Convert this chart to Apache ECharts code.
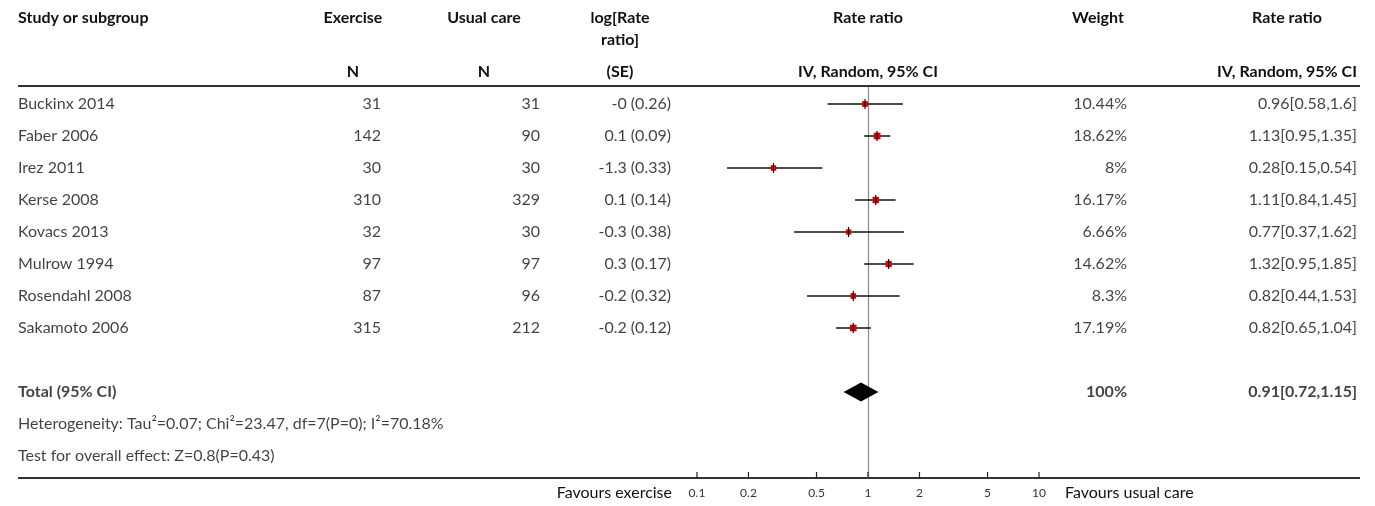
<!DOCTYPE html>
<html><head><meta charset="utf-8">
<script src="https://cdn.jsdelivr.net/npm/echarts@6/dist/echarts.min.js"></script>
<style>html,body{margin:0;padding:0;background:#fff}#c{width:1375px;height:506px}</style>
</head><body><div id="c"></div>
<script>
// ---- data ----
const studies = ['Buckinx 2014','Faber 2006','Irez 2011','Kerse 2008','Kovacs 2013','Mulrow 1994','Rosendahl 2008','Sakamoto 2006'];
const exerciseN = [31,142,30,310,32,97,87,315];
const usualN = [31,90,30,329,30,97,96,212];
const logRR = ['-0','0.1','-1.3','0.1','-0.3','0.3','-0.2','-0.2'];
const logSE = ['0.26','0.09','0.33','0.14','0.38','0.17','0.32','0.12'];
const weight = [10.44,18.62,8,16.17,6.66,14.62,8.3,17.19];
const rr = [0.96,1.13,0.28,1.11,0.77,1.32,0.82,0.82];
const ciLow = [0.58,0.95,0.15,0.84,0.37,0.95,0.44,0.65];
const ciHigh = [1.6,1.35,0.54,1.45,1.62,1.85,1.53,1.04];
const totalLabel = 'Total (95% CI)';
const totalWeight = '100%';
const totalRR = [0.91, 0.72, 1.15];
const heterogeneity = 'Heterogeneity: Tau\u00b2=0.07; Chi\u00b2=23.47, df=7(P=0); I\u00b2=70.18%';
const overallTest = 'Test for overall effect: Z=0.8(P=0.43)';
const tickValues = [0.1,0.2,0.5,1,2,5,10];
const headers1 = ['Study or subgroup','Exercise','Usual care','log[Rate','Rate ratio','Weight','Rate ratio'];
const headers1b = ['','','','ratio]','','',''];
const headers2 = ['','N','N','(SE)','IV, Random, 95% CI','','IV, Random, 95% CI'];
const favours = ['Favours exercise','Favours usual care'];

// ---- layout ----
const FONT = 'Lato';
const FS = 16;
const TXT = '#111';
const ROW0 = 104, ROWH = 32, TOP = 86, BOT = 478;
const yMin = (TOP - ROW0) / ROWH, yMax = (BOT - ROW0) / ROWH;
const totalRow = 9, hetRow = 10, testRow = 11;
const colStudy = 18, colEx = 381, colUC = 540, colSE = 671, colW = 1127, colRR = 1357;
const hdrX = [18, 353, 484, 620, 868, 1098, 1287];
const hdrAlign = ['left','center','center','center','center','center','center'];

const fmt = v => String(v);
function textSeries(col, rows, texts, pos, bold) {
  return {
    type: 'scatter', xAxisIndex: 1, yAxisIndex: 1, symbolSize: 0, silent: true,
    data: rows.map((r, i) => [col, r, texts[i]]),
    label: { show: true, position: pos, distance: 0, formatter: p => p.value[2],
      fontFamily: FONT, fontSize: FS, color: TXT, fontWeight: bold ? 'bold' : 'normal' },
    z: 5
  };
}
const rowsIdx = studies.map((_, i) => i);
const ciData = studies.map((_, i) => [rr[i], i, ciLow[i], ciHigh[i], weight[i]]);

const option = {
  animation: false,
  backgroundColor: '#fff',
  grid: [
    { left: 697, width: 342, top: TOP, height: BOT - TOP },
    { left: 0, width: 1375, top: TOP, height: BOT - TOP }
  ],
  xAxis: [
    { type: 'log', logBase: 10, min: 0.1, max: 10, gridIndex: 0, position: 'bottom',
      axisLine: { show: true, onZero: false, lineStyle: { color: '#333', width: 2 } },
      axisTick: { show: false },
      axisLabel: { show: true, customValues: tickValues, formatter: v => fmt(v), fontFamily: FONT, fontSize: 12, color: '#333', margin: 9 },
      splitLine: { show: false } },
    { type: 'value', min: 0, max: 1375, gridIndex: 1, show: false }
  ],
  yAxis: [
    { type: 'value', inverse: true, min: yMin, max: yMax, gridIndex: 0, show: false },
    { type: 'value', inverse: true, min: yMin, max: yMax, gridIndex: 1, show: false }
  ],
  graphic: [
    { type: 'line', shape: { x1: 18, y1: TOP, x2: 1360, y2: TOP }, style: { stroke: '#333', lineWidth: 2 }, z: 10 },
    { type: 'line', shape: { x1: 18, y1: BOT, x2: 697, y2: BOT }, style: { stroke: '#333', lineWidth: 2 }, z: 10 },
    { type: 'line', shape: { x1: 1039, y1: BOT, x2: 1360, y2: BOT }, style: { stroke: '#333', lineWidth: 2 }, z: 10 },
    ...headers1.map((t, i) => ({ type: 'text', x: hdrX[i], y: 18, style: { text: t, font: `bold ${FS}px ${FONT}`, fill: TXT, align: hdrAlign[i], verticalAlign: 'middle' } })),
    ...headers1b.map((t, i) => ({ type: 'text', x: hdrX[i], y: 40, style: { text: t, font: `bold ${FS}px ${FONT}`, fill: TXT, align: hdrAlign[i], verticalAlign: 'middle' } })),
    ...headers2.map((t, i) => ({ type: 'text', x: hdrX[i], y: 72, style: { text: t, font: `bold ${FS}px ${FONT}`, fill: TXT, align: hdrAlign[i], verticalAlign: 'middle' } })),
    { type: 'text', x: 672, y: 493, style: { text: favours[0], font: `${FS}px ${FONT}`, fill: TXT, align: 'right', verticalAlign: 'middle' } },
    { type: 'text', x: 1065, y: 493, style: { text: favours[1], font: `${FS}px ${FONT}`, fill: TXT, align: 'left', verticalAlign: 'middle' } }
  ],
  series: [
    textSeries(colStudy, rowsIdx, studies, 'right'),
    textSeries(colEx, rowsIdx, exerciseN.map(String), 'left'),
    textSeries(colUC, rowsIdx, usualN.map(String), 'left'),
    textSeries(colSE, rowsIdx, logRR.map((v, i) => `${v} (${logSE[i]})`), 'left'),
    textSeries(colW, rowsIdx, weight.map(w => w + '%'), 'left'),
    textSeries(colRR, rowsIdx, rr.map((v, i) => `${v}[${ciLow[i]},${ciHigh[i]}]`), 'left'),
    textSeries(colStudy, [totalRow], [totalLabel], 'right', true),
    textSeries(colW, [totalRow], [totalWeight], 'left', true),
    textSeries(colRR, [totalRow], [`${totalRR[0]}[${totalRR[1]},${totalRR[2]}]`], 'left', true),
    textSeries(colStudy, [hetRow, testRow], [heterogeneity, overallTest], 'right'),
    {
      type: 'scatter', xAxisIndex: 0, yAxisIndex: 0, symbolSize: 0, data: [[1, 0]], silent: true, z: 1,
      markLine: { silent: true, symbol: 'none', label: { show: false }, z: 1,
        lineStyle: { color: '#8a8a8a', width: 1.2, type: 'solid' }, data: [{ xAxis: 1 }] }
    },
    {
      // axis ticks (pointing up from the baseline)
      type: 'custom', xAxisIndex: 0, yAxisIndex: 0, silent: true, z: 10, clip: false,
      data: tickValues.map(v => [v, yMax]),
      encode: { x: 0, y: 1 },
      renderItem: (params, api) => {
        const p = api.coord([api.value(0), api.value(1)]);
        return { type: 'line', shape: { x1: p[0], y1: p[1] - 6, x2: p[0], y2: p[1] }, style: { stroke: '#222', lineWidth: 1.2 } };
      }
    },
    {
      type: 'custom', xAxisIndex: 0, yAxisIndex: 0, silent: true, z: 10,
      data: ciData,
      encode: { x: [0, 2, 3], y: 1 },
      renderItem: (params, api) => {
        const row = api.value(1);
        const c = api.coord([api.value(0), row]);
        const l = api.coord([api.value(2), row]);
        const h = api.coord([api.value(3), row]);
        const s = 4.5 + api.value(4) * 0.12;
        return { type: 'group', children: [
          { type: 'line', shape: { x1: l[0], y1: c[1], x2: h[0], y2: c[1] }, style: { stroke: '#111', lineWidth: 1.5 } },
          { type: 'rect', shape: { x: c[0] - s / 2, y: c[1] - s / 2, width: s, height: s }, style: { fill: '#e00000' } },
          { type: 'line', shape: { x1: c[0], y1: c[1] - 5, x2: c[0], y2: c[1] + 5 }, style: { stroke: '#111', lineWidth: 1.2 } }
        ] };
      }
    },
    {
      type: 'custom', xAxisIndex: 0, yAxisIndex: 0, silent: true, z: 10,
      data: [[totalRR[0], totalRow, totalRR[1], totalRR[2]]],
      encode: { x: [0, 2, 3], y: 1 },
      renderItem: (params, api) => {
        const row = api.value(1);
        const c = api.coord([api.value(0), row]);
        const l = api.coord([api.value(2), row]);
        const h = api.coord([api.value(3), row]);
        const hh = 9.5;
        return { type: 'polygon', shape: { points: [[l[0], c[1]], [c[0], c[1] - hh], [h[0], c[1]], [c[0], c[1] + hh]] }, style: { fill: '#000' } };
      }
    }
  ]
};
const chart = echarts.init(document.getElementById('c'));
chart.setOption(option);
</script></body></html>
